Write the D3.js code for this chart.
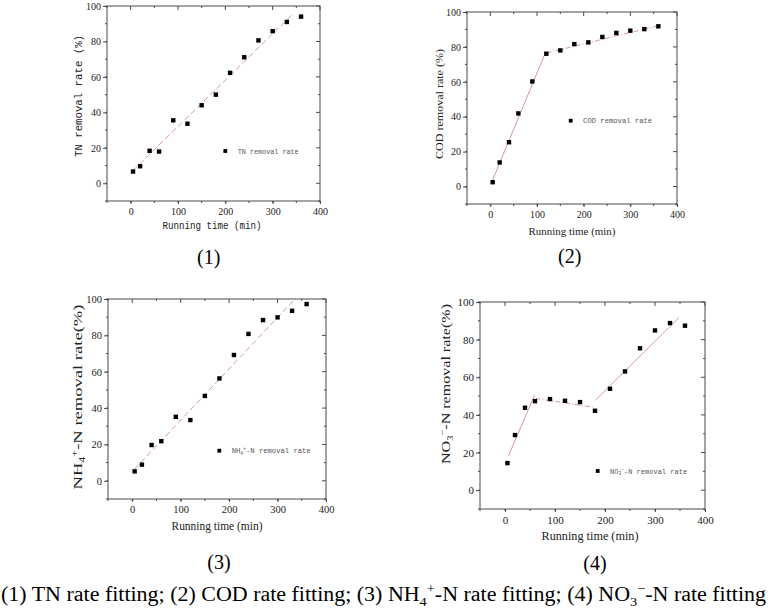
<!DOCTYPE html>
<html>
<head>
<meta charset="utf-8">
<script src="https://cdn.jsdelivr.net/npm/d3@7"></script>
<style>
  html, body { margin: 0; padding: 0; background: #fff; }
  svg { display: block; }
</style>
</head>
<body>
<div id="chart"></div>
<script>
// sampling times shared by the four panels
var timeMin = [5, 20, 40, 60, 90, 120, 150, 180, 210, 240, 270, 300, 330, 360];

// removal rates (%)
var tnRate  = [6.6, 9.6, 18.3, 17.9, 35.5, 33.6, 44, 50, 62.3, 71.1, 80.6, 85.8, 91, 94];
var codRate = [2.5, 13.8, 25.4, 41.9, 60.2, 76.1, 78, 81.6, 82.6, 85.7, 88, 89.3, 90.2, 91.8];
var nh4Rate = [5.2, 8.9, 19.7, 21.8, 35.2, 33.4, 46.7, 56.3, 69.2, 80.8, 88.4, 89.9, 93.5, 97.2];
var no3Rate = [14.4, 29.3, 43.8, 47.3, 48.4, 47.5, 46.8, 42.2, 53.9, 63.1, 75.4, 84.9, 88.8, 87.4];

// fitted segments, [time, rate] endpoints
var tnFit  = [[[5, 7.2], [344, 95.8]]];
var codFit = [[[5, 3.8], [117, 76]], [[120, 76.5], [362, 92.3]]];
var nh4Fit = [[[5, 6.5], [336, 100]]];
var no3Fit = [[[7, 18.3], [59, 50.5]], [[61, 48.8], [178, 44]], [[181, 47.9], [348, 91.7]]];

var xTicks = [0, 100, 200, 300, 400];
var yTicks = [0, 20, 40, 60, 80, 100];
var xDomain = [-50, 400];
var yDomain = [-10, 100];

var panels = [
    {rates: tnRate, fit: tnFit, dash: ["6,3"],
     box: {l: 107, r: 320, t: 6, b: 201}, tickFont: 10,
     titleFont: "'Liberation Mono', monospace", titleSize: 10.5,
     yTitle: [{t: "TN removal rate (%)"}], yTitleAt: [82, 96], yTitleLen: 122,
     xTitleAt: [212, 229], xTitleLen: 99,
     legend: [{t: "TN removal rate"}], legendAt: [225.3, 151], legendLen: 61,
     caption: "(1)", captionAt: [208.7, 264]},
    {rates: codRate, fit: codFit, dash: ["none", "5,2,1,2"],
     box: {l: 467, r: 677, t: 12, b: 204}, tickFont: 10,
     titleFont: "'Liberation Serif', serif", titleSize: 11,
     yTitle: [{t: "COD removal rate (%)"}], yTitleAt: [443, 104], yTitleLen: 110,
     xTitleAt: [572, 235], xTitleLen: 87,
     legend: [{t: "COD removal rate"}], legendAt: [570.7, 120.7], legendLen: 69,
     caption: "(2)", captionAt: [569.7, 263]},
    {rates: nh4Rate, fit: nh4Fit, dash: ["6,3"],
     box: {l: 108, r: 326, t: 299, b: 499}, tickFont: 10.5,
     titleFont: "'Liberation Serif', serif", titleSize: 12,
     yTitle: [{t: "NH"}, {t: "4", sub: true}, {t: "+", sup: true}, {t: "-N removal rate(%)"}],
     yTitleAt: [81.5, 397], yTitleLen: 185,
     xTitleAt: [217, 530], xTitleLen: 91,
     legend: [{t: "NH"}, {t: "4", sub: true}, {t: "+", sup: true}, {t: "-N removal rate"}],
     legendAt: [219.3, 450.7], legendLen: 79,
     caption: "(3)", captionAt: [219, 569]},
    {rates: no3Rate, fit: no3Fit, dash: ["none", "5,2,1,2", "none"],
     box: {l: 480, r: 705, t: 302, b: 509}, tickFont: 11,
     titleFont: "'Liberation Serif', serif", titleSize: 12,
     yTitle: [{t: "NO"}, {t: "3", sub: true}, {t: "\u2212", sup: true}, {t: "-N removal rate(%)"}],
     yTitleAt: [450, 384], yTitleLen: 160,
     xTitleAt: [590, 540], xTitleLen: 97,
     legend: [{t: "NO"}, {t: "3", sub: true}, {t: "\u2212", sup: true}, {t: "-N removal rate"}],
     legendAt: [597.7, 471], legendLen: 77,
     caption: "(4)", captionAt: [595, 570]}
];

var axisColor = "#4a4a4a";
var fitColor = "#d39a9a";
var serif = "'Liberation Serif', 'Times New Roman', serif";

var svg = d3.select("#chart").append("svg")
    .attr("width", 768)
    .attr("height", 609)
    .attr("viewBox", "0 0 768 609");

// writes runs of text, some of them sub/superscript
function addRuns(textSel, runs, size) {
    var shift = 0;
    runs.forEach(function(run) {
        var target = 0;
        if (run.sub) target = size * 0.25;
        if (run.sup) target = -size * 0.38;
        textSel.append("tspan")
            .attr("dy", target - shift)
            .style("font-size", (run.sub || run.sup) ? size * 0.65 + "px" : null)
            .text(run.t);
        shift = target;
    });
}

function drawPanel(p) {
    var box = p.box;
    var x = d3.scaleLinear().domain(xDomain).range([box.l, box.r]);
    var y = d3.scaleLinear().domain(yDomain).range([box.b, box.t]);
    var g = svg.append("g");

    // frame
    g.append("rect")
        .attr("x", box.l).attr("y", box.t)
        .attr("width", box.r - box.l).attr("height", box.b - box.t)
        .attr("fill", "none").attr("stroke", axisColor).attr("stroke-width", 1);

    var xMinor = d3.range(-50, 401, 50);
    var yMinor = d3.range(-10, 101, 10);

    var bottom = g.append("g")
        .attr("transform", `translate(0, ${box.b})`)
        .call(d3.axisBottom(x).tickValues(xTicks).tickSize(3).tickPadding(4));
    var left = g.append("g")
        .attr("transform", `translate(${box.l}, 0)`)
        .call(d3.axisLeft(y).tickValues(yTicks).tickSize(4).tickPadding(2));
    [bottom, left].forEach(function(ax) {
        ax.attr("font-family", null);
        ax.select(".domain").remove();
        ax.selectAll("line").attr("stroke", axisColor);
        ax.selectAll("text")
            .attr("fill", "#222")
            .style("font-family", serif)
            .style("font-size", p.tickFont + "px");
    });

    // minor ticks and the inner ticks on the top and right sides
    g.append("g").selectAll("line")
        .data(xMinor).enter().append("line")
        .attr("x1", d => x(d)).attr("x2", d => x(d))
        .attr("y1", box.b).attr("y2", box.b + 2)
        .attr("stroke", axisColor);
    g.append("g").selectAll("line")
        .data(xMinor).enter().append("line")
        .attr("x1", d => x(d)).attr("x2", d => x(d))
        .attr("y1", box.t).attr("y2", d => box.t + (d % 100 == 0 ? 4 : 2))
        .attr("stroke", axisColor);
    g.append("g").selectAll("line")
        .data(yMinor).enter().append("line")
        .attr("y1", d => y(d)).attr("y2", d => y(d))
        .attr("x1", box.l - 2).attr("x2", box.l)
        .attr("stroke", axisColor);
    g.append("g").selectAll("line")
        .data(yMinor).enter().append("line")
        .attr("y1", d => y(d)).attr("y2", d => y(d))
        .attr("x1", d => box.r - (d % 20 == 0 ? 4 : 2)).attr("x2", box.r)
        .attr("stroke", axisColor);

    // fit lines
    var line = d3.line().x(d => x(d[0])).y(d => y(d[1]));
    g.append("g").selectAll("path")
        .data(p.fit).enter().append("path")
        .attr("d", line)
        .attr("fill", "none")
        .attr("stroke", fitColor)
        .attr("stroke-width", 1)
        .attr("stroke-dasharray", (d, i) => p.dash[i]);

    // measured points
    var ms = 4.4;
    g.append("g").selectAll("rect")
        .data(timeMin.map((t, i) => [t, p.rates[i]]))
        .enter().append("rect")
        .attr("x", d => x(d[0]) - ms / 2)
        .attr("y", d => y(d[1]) - ms / 2)
        .attr("width", ms).attr("height", ms)
        .attr("fill", "#000");

    // legend
    var lg = 3.8;
    g.append("rect")
        .attr("x", p.legendAt[0] - lg / 2).attr("y", p.legendAt[1] - lg / 2)
        .attr("width", lg).attr("height", lg).attr("fill", "#000");
    var lt = g.append("text")
        .attr("x", p.legendAt[0] + 12.4)
        .attr("y", p.legendAt[1] + 2.6)
        .attr("fill", "#555")
        .style("font-family", "'Liberation Mono', monospace")
        .style("font-size", "7.5px")
        .attr("textLength", p.legendLen)
        .attr("lengthAdjust", "spacingAndGlyphs");
    addRuns(lt, p.legend, 7.5);

    // axis titles
    g.append("text")
        .attr("x", p.xTitleAt[0]).attr("y", p.xTitleAt[1])
        .attr("text-anchor", "middle")
        .attr("fill", "#222")
        .style("font-family", p.titleFont)
        .style("font-size", p.titleSize + "px")
        .attr("textLength", p.xTitleLen)
        .attr("lengthAdjust", "spacingAndGlyphs")
        .text("Running time (min)");
    var yt = g.append("text")
        .attr("transform", `translate(${p.yTitleAt[0]}, ${p.yTitleAt[1] + p.yTitleLen / 2}) rotate(-90)`)
        .attr("fill", "#222")
        .style("font-family", p.titleFont)
        .style("font-size", p.titleSize + "px")
        .attr("textLength", p.yTitleLen)
        .attr("lengthAdjust", "spacingAndGlyphs");
    addRuns(yt, p.yTitle, p.titleSize);

    // panel number
    svg.append("text")
        .attr("x", p.captionAt[0]).attr("y", p.captionAt[1])
        .attr("text-anchor", "middle")
        .attr("fill", "#000")
        .style("font-family", serif)
        .style("font-size", "20px")
        .text(p.caption);
}

panels.forEach(drawPanel);

// figure caption
var cap = svg.append("text")
    .attr("x", 1).attr("y", 601)
    .attr("fill", "#000")
    .style("font-family", serif)
    .style("font-size", "20px")
    .attr("textLength", 765)
    .attr("lengthAdjust", "spacingAndGlyphs");
addRuns(cap, [
    {t: "(1) TN rate fitting; (2) COD rate fitting; (3) NH"}, {t: "4", sub: true}, {t: "+", sup: true},
    {t: "-N rate fitting; (4) NO"}, {t: "3", sub: true}, {t: "\u2212", sup: true}, {t: "-N rate fitting"}
], 20);
</script>
</body>
</html>
